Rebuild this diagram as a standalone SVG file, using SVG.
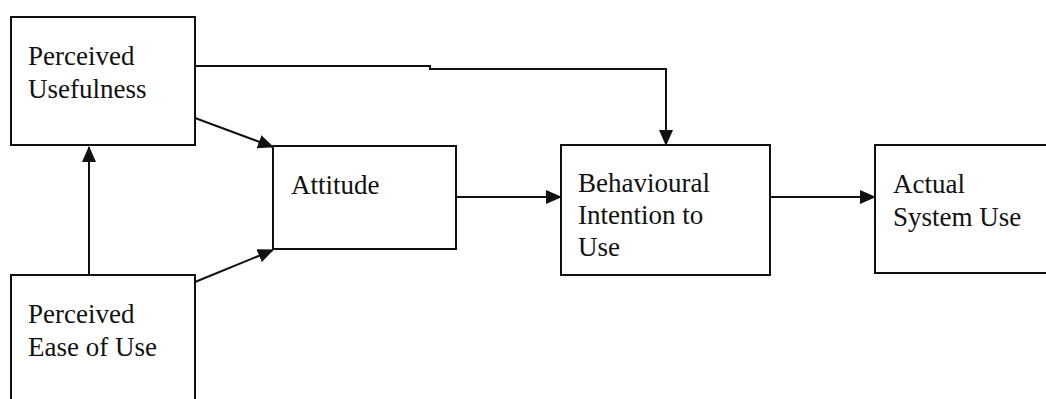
<svg xmlns="http://www.w3.org/2000/svg" width="1046" height="399" viewBox="0 0 1046 399">
  <style>
    .box { fill: #ffffff; stroke: #111111; stroke-width: 2; }
    .label { font-family: 'Liberation Serif', 'DejaVu Serif', serif; font-size: 27px; fill: #111111; }
    .link { fill: none; stroke: #111111; stroke-width: 2; }
  </style>
  <defs>
    <marker id="arrow" markerUnits="userSpaceOnUse" markerWidth="16" markerHeight="14" refX="15" refY="7" orient="auto">
      <path d="M0,0 L16,7 L0,14 z" fill="#111111"/>
    </marker>
  </defs>
  <rect width="1046" height="399" fill="#ffffff"/>

  <g id="perceived-usefulness">
    <rect class="box" x="11" y="17" width="184" height="128"/>
    <text class="label" font-family="Liberation Serif, serif" x="28" y="65">Perceived</text>
    <text class="label" font-family="Liberation Serif, serif" x="28" y="98">Usefulness</text>
  </g>

  <g id="perceived-ease-of-use">
    <rect class="box" x="11" y="275" width="184" height="140"/>
    <text class="label" font-family="Liberation Serif, serif" x="28" y="323">Perceived</text>
    <text class="label" font-family="Liberation Serif, serif" x="28" y="356">Ease of Use</text>
  </g>

  <g id="attitude">
    <rect class="box" x="273" y="146" width="183" height="103"/>
    <text class="label" font-family="Liberation Serif, serif" x="291" y="194">Attitude</text>
  </g>

  <g id="behavioural-intention">
    <rect class="box" x="561" y="145" width="209" height="130"/>
    <text class="label" font-family="Liberation Serif, serif" x="578" y="192">Behavioural</text>
    <text class="label" font-family="Liberation Serif, serif" x="578" y="224">Intention to</text>
    <text class="label" font-family="Liberation Serif, serif" x="578" y="256">Use</text>
  </g>

  <g id="actual-system-use">
    <rect class="box" x="875" y="145" width="180" height="128"/>
    <text class="label" font-family="Liberation Serif, serif" x="893" y="193">Actual</text>
    <text class="label" font-family="Liberation Serif, serif" x="893" y="226">System Use</text>
  </g>

  <g id="connectors">
    <!-- ease of use -> usefulness -->
    <path class="link" d="M89,275 L89,147" marker-end="url(#arrow)"/>
    <!-- usefulness -> attitude -->
    <path class="link" d="M195,118 L273,147" marker-end="url(#arrow)"/>
    <!-- ease of use -> attitude -->
    <path class="link" d="M195,282 L273,250" marker-end="url(#arrow)"/>
    <!-- usefulness -> intention (over the top) -->
    <path class="link" d="M195,66 L430,66 L430,69 L666,69 L666,145" marker-end="url(#arrow)"/>
    <!-- attitude -> intention -->
    <path class="link" d="M456,197 L561,197" marker-end="url(#arrow)"/>
    <!-- intention -> actual use -->
    <path class="link" d="M770,197 L875,197" marker-end="url(#arrow)"/>
  </g>
</svg>
